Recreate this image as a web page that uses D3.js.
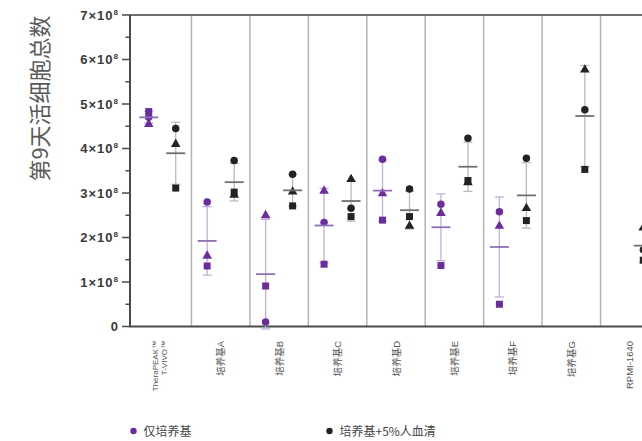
<!DOCTYPE html>
<html>
<head>
<meta charset="utf-8">
<script src="https://cdn.jsdelivr.net/npm/d3@7"></script>
<style>
  html, body { margin: 0; padding: 0; background: #fff; }
  svg { display: block; font-family: "Noto Sans CJK SC", "Noto Sans", sans-serif; }
</style>
</head>
<body>
<svg id="chart" width="642" height="441"></svg>
<script>
// Groups along the x axis
const categories = ["TheraPEAK™ T-VIVO™", "培养基A", "培养基B", "培养基C", "培养基D", "培养基E", "培养基F", "培养基G", "RPMI-1640"];

// Day-9 total viable cells, in units of 10^8, one value per donor (circle / triangle / square)
const mediumCircle   = [4.70, 2.80, 0.10, 2.34, 3.76, 2.75, 2.58, null, null];
const mediumTriangle = [4.57, 1.61, 2.52, 3.07, 3.01, 2.57, 2.28, null, null];
const mediumSquare   = [4.83, 1.36, 0.91, 1.40, 2.39, 1.37, 0.50, null, null];

const serumCircle    = [4.45, 3.73, 3.42, 2.66, 3.09, 4.23, 3.78, 4.87, 1.72];
const serumTriangle  = [4.12, 2.98, 3.05, 3.33, 2.28, 3.26, 2.68, 5.79, 2.24];
const serumSquare    = [3.11, 3.02, 2.71, 2.47, 2.47, 3.28, 2.38, 3.53, 1.49];

const yTicks = [0, 1, 2, 3, 4, 5, 6, 7];
const legendLabels = ["仅培养基", "培养基+5%人血清"];
const yTitle = "第9天活细胞总数";

const svg = d3.select("#chart");
const axisX = 130, plotTop = 15, plotBottom = 326.5;

const y = d3.scaleLinear().domain([0, 7e8]).range([plotBottom, plotTop]);
const x = d3.scaleBand().domain(categories).range([133, 659]).paddingInner(0).paddingOuter(0);

const series = [
  { key: "medium", color: "#6b2d9e", bar: "#c2aedb", mean: "#8f70b6", offset: -13.5,
    c: mediumCircle, t: mediumTriangle, s: mediumSquare },
  { key: "serum", color: "#232323", bar: "#bbbbbb", mean: "#707070", offset: 13.5,
    c: serumCircle, t: serumTriangle, s: serumSquare }
];

// group separators
svg.append("g").selectAll("line")
  .data(categories.slice(0, -1))
  .join("line")
  .attr("x1", d => x(d) + x.bandwidth()).attr("x2", d => x(d) + x.bandwidth())
  .attr("y1", plotTop).attr("y2", plotBottom)
  .attr("stroke", "#b4b4b4").attr("stroke-width", 1.5);

// top frame line
svg.append("line")
  .attr("x1", axisX).attr("x2", 642).attr("y1", plotTop).attr("y2", plotTop)
  .attr("stroke", "#6e6e6e").attr("stroke-width", 2);

// y axis with minor ticks
const yAxis = svg.append("g").attr("transform", `translate(${axisX},0)`);
yAxis.append("line").attr("x1", 0).attr("x2", 0).attr("y1", plotTop).attr("y2", plotBottom)
  .attr("stroke", "#4a4a4a").attr("stroke-width", 2);
const minor = d3.range(0.5, 7, 1);
yAxis.selectAll(".minor").data(minor).join("line").attr("class", "minor")
  .attr("x1", -4.5).attr("x2", 0).attr("y1", d => y(d * 1e8)).attr("y2", d => y(d * 1e8))
  .attr("stroke", "#4a4a4a").attr("stroke-width", 1.5);
yAxis.selectAll(".major").data(yTicks).join("line").attr("class", "major")
  .attr("x1", -8).attr("x2", 0).attr("y1", d => y(d * 1e8)).attr("y2", d => y(d * 1e8))
  .attr("stroke", "#4a4a4a").attr("stroke-width", 1.5);

const tickText = yAxis.selectAll(".tl").data(yTicks).join("text").attr("class", "tl")
  .attr("x", -11).attr("y", d => y(d * 1e8) + 4.5)
  .attr("text-anchor", "end")
  .attr("font-family", "Liberation Sans, Arial, sans-serif")
  .attr("font-size", 13).attr("font-weight", "bold").attr("fill", "#3a3a3a")
  .attr("letter-spacing", 1);
tickText.each(function(d) {
  const t = d3.select(this);
  if (d === 0) { t.text("0"); return; }
  t.append("tspan").text(d + "×10");
  t.append("tspan").attr("dy", -5).attr("font-size", 8).text("8");
});

// x axis line
svg.append("line").attr("x1", axisX - 1).attr("x2", 642).attr("y1", plotBottom).attr("y2", plotBottom)
  .attr("stroke", "#4a4a4a").attr("stroke-width", 2);

// x labels (rotated)
const xl = svg.append("g").selectAll("g").data(categories).join("g")
  .attr("transform", d => `translate(${x(d) + x.bandwidth() / 2},341) rotate(-90)`);
xl.each(function(d, i) {
  const g = d3.select(this);
  const style = t => t.attr("text-anchor", "end").attr("fill", "#555")
    .attr("font-family", "Liberation Sans, Noto Sans CJK SC, sans-serif");
  if (i === 0) {
    const parts = d.split(" ");
    style(g.append("text")).attr("x", 0).attr("y", -4).attr("font-size", 8).text(parts[0]);
    style(g.append("text")).attr("x", 0).attr("y", 5).attr("font-size", 8).text(parts[1]);
  } else {
    style(g.append("text")).attr("x", 0).attr("y", 3.5).attr("font-size", 9.5).text(d);
  }
});

// error bars, means and donor points
const symbols = { c: d3.symbolCircle, t: d3.symbolTriangle, s: d3.symbolSquare };
const sizes = { c: 44, t: 40, s: 49 };
const plot = svg.append("g");

series.forEach(sr => {
  categories.forEach((cat, i) => {
    const vals = [sr.c[i], sr.t[i], sr.s[i]];
    if (vals.some(v => v == null)) return;
    const m = d3.mean(vals), sd = d3.deviation(vals);
    const cx = x(cat) + x.bandwidth() / 2 + sr.offset;
    const g = plot.append("g");
    g.append("line").attr("x1", cx).attr("x2", cx)
      .attr("y1", y((m - sd) * 1e8)).attr("y2", y((m + sd) * 1e8))
      .attr("stroke", sr.bar).attr("stroke-width", 1.3);
    [m - sd, m + sd].forEach(v => {
      g.append("line").attr("x1", cx - 4.5).attr("x2", cx + 4.5)
        .attr("y1", y(v * 1e8)).attr("y2", y(v * 1e8))
        .attr("stroke", sr.bar).attr("stroke-width", 1.3);
    });
    ["c", "t", "s"].forEach(k => {
      const v = sr[k][i];
      g.append("path")
        .attr("d", d3.symbol().type(symbols[k]).size(sizes[k])())
        .attr("transform", `translate(${cx},${y(v * 1e8) + (k === "t" ? 1 : 0)})`)
        .attr("fill", sr.color);
    });
    g.append("line").attr("x1", cx - 9.5).attr("x2", cx + 9.5)
      .attr("y1", y(m * 1e8)).attr("y2", y(m * 1e8))
      .attr("stroke", sr.mean).attr("stroke-width", 1.8);
  });
});

// y title
svg.append("text")
  .attr("transform", "translate(48,98.5) rotate(-90)")
  .attr("text-anchor", "middle")
  .attr("font-size", 22).attr("fill", "#5a5a5a")
  .text(yTitle);

// legend
const legendX = [133.5, 329.5];
const lg = svg.append("g").selectAll("g").data(legendLabels).join("g")
  .attr("transform", (d, i) => `translate(${legendX[i]},431)`);
lg.append("circle").attr("r", 3.2).attr("fill", (d, i) => series[i].color);
lg.append("text").attr("x", 10).attr("y", 4.5).attr("font-size", 12).attr("fill", "#444").text(d => d);
</script>
</body>
</html>
